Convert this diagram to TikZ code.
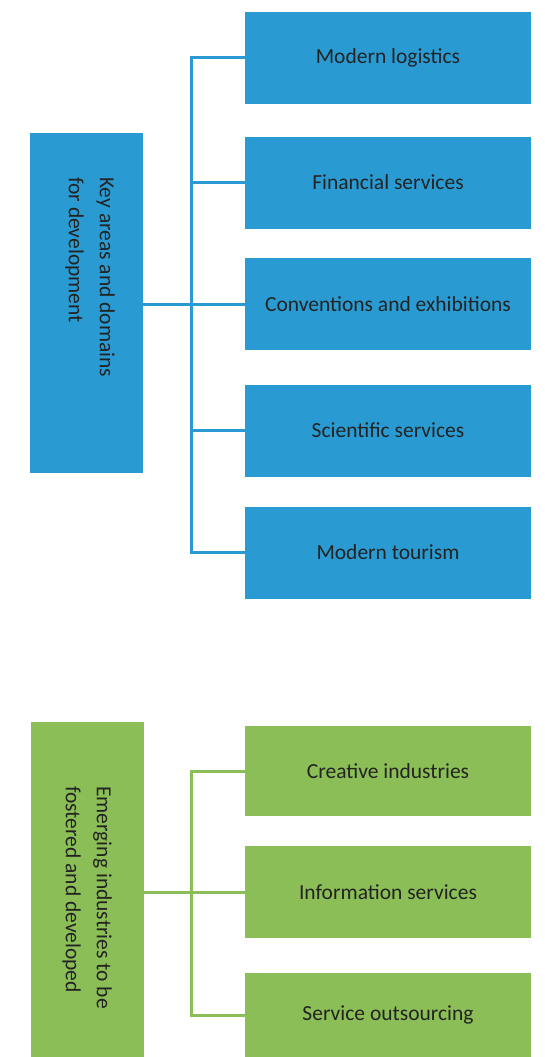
\documentclass[tikz,border=0pt]{standalone}
\usepackage{fontspec}
\setmainfont{Carlito}
\usepackage{xcolor}
\usepackage{tikz}
\usetikzlibrary{positioning}

\definecolor{areablue}{RGB}{42,155,210}
\definecolor{emergegreen}{RGB}{139,190,86}
\definecolor{labeldark}{RGB}{35,35,35}

\tikzset{
  leafbox/.style={rectangle, minimum width=286pt, minimum height=92pt, inner sep=0pt,
    text=labeldark, font=\fontsize{21.5}{25}\selectfont},
  rootbox/.style={rectangle, minimum width=113pt, inner sep=0pt},
  roottext/.style={rotate=-90, anchor=west, inner sep=0pt, align=left,
    text=labeldark, font=\fontsize{21.5}{31}\selectfont},
  link/.style={line width=3pt}
}

\begin{document}
\begin{tikzpicture}[x=1pt, y=-1pt]
  \useasboundingbox (0,0) rectangle (545,1057);

  % key areas and domains
  \node[rootbox, fill=areablue, minimum height=340pt] (keyA) at (86.5,303) {};
  \node[roottext] (keyAtxt) at (90,177) {Key areas and domains\\for development};
  \node[leafbox, fill=areablue] (logi) at (388,58) {Modern logistics};
  \node[leafbox, fill=areablue] (fin) at (388,182.5) {Financial services};
  \node[leafbox, fill=areablue] (conv) at (388,304) {Conventions and exhibitions};
  \node[leafbox, fill=areablue] (sci) at (388,430.5) {Scientific services};
  \node[leafbox, fill=areablue] (tour) at (388,552.5) {Modern tourism};

  \coordinate (busA) at (191,0);
  \draw[link, areablue] (keyA.east |- conv.west) -- (conv.west);
  \draw[link, areablue] (logi.west) -- (busA |- logi.west) -- (busA |- tour.west) -- (tour.west);
  \foreach \n in {fin, sci}
    \draw[link, areablue] (busA |- \n.west) -- (\n.west);

  % emerging industries
  \node[rootbox, fill=emergegreen, minimum height=335pt] (keyB) at (87.5,889.5) {};
  \node[roottext] (keyBtxt) at (87,786) {Emerging industries to be\\fostered and developed};
  \node[leafbox, fill=emergegreen, minimum height=90pt] (creat) at (388,771) {Creative industries};
  \node[leafbox, fill=emergegreen] (info) at (388,892) {Information services};
  \node[leafbox, fill=emergegreen, minimum height=84pt] (outs) at (388,1015) {Service outsourcing};

  \coordinate (busB) at (191,0);
  \draw[link, emergegreen] (keyB.east |- info.west) -- (info.west);
  \draw[link, emergegreen] (creat.west) -- (busB |- creat.west) -- (busB |- outs.west) -- (outs.west);
\end{tikzpicture}
\end{document}
